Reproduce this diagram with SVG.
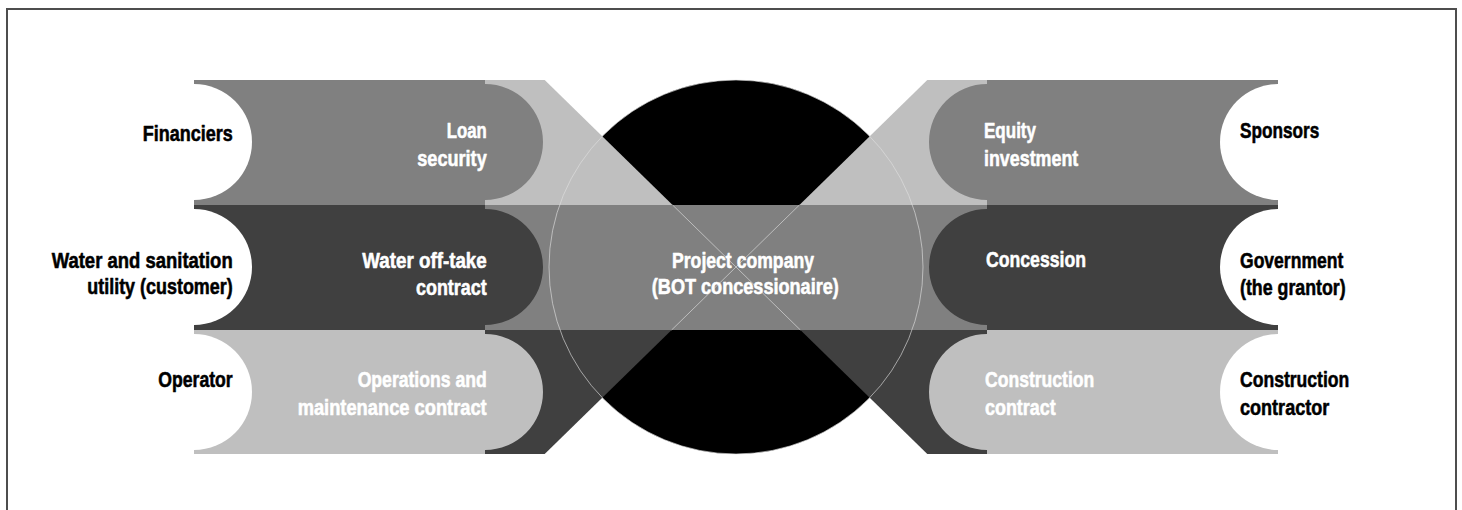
<svg xmlns="http://www.w3.org/2000/svg" width="1462" height="510" viewBox="0 0 1462 510">
<style>
.t{font-family:"Liberation Sans",Arial,sans-serif;font-weight:bold;font-size:21.5px;stroke-width:0.55;stroke-linejoin:round}
.k{fill:#000;stroke:#000}
.w{fill:#fff;stroke:#fff}
.e{text-anchor:end}
.m{text-anchor:middle}
.thin{fill:none;stroke:#e0e0e0;stroke-width:0.8;stroke-opacity:0.8}
</style>
<rect width="1462" height="510" fill="#fff"/>
<path d="M7,510 V9 H1456 V510" fill="none" stroke="#4d4d4d" stroke-width="2"/>

<g id="hub">
  <circle cx="736" cy="267" r="187" fill="#000"/>
  <polygon points="485,80 544.7,80 672.6,205 485,205" fill="#bfbfbf"/>
  <polygon points="927.3,80 987,80 987,205 799.4,205" fill="#bfbfbf"/>
  <polygon points="485,330 671.6,330 544.7,454 485,454" fill="#404040"/>
  <polygon points="800.4,330 987,330 987,454 927.3,454" fill="#404040"/>
  <rect x="485" y="205" width="502" height="125" fill="#808080"/>
  <circle class="thin" cx="736" cy="267" r="187"/>
</g>

<g id="connectors">
  <line class="thin" x1="672.6" y1="205" x2="800.4" y2="330"/>
  <line class="thin" x1="799.4" y1="205" x2="671.6" y2="330"/>
</g>

<g id="project-company">
  <text class="t w m" x="743" y="268" textLength="142" lengthAdjust="spacingAndGlyphs">Project company</text>
  <text class="t w m" x="745.3" y="294" textLength="187" lengthAdjust="spacingAndGlyphs">(BOT concessionaire)</text>
</g>

<g id="loan-security">
  <path d="M194,80 H485 V84 A58,58 0 0 1 485,200 V205 H194 Z" fill="#808080"/>
  <text class="t w e" x="486.7" y="138" textLength="40" lengthAdjust="spacingAndGlyphs">Loan</text>
  <text class="t w e" x="486.7" y="166" textLength="69.4" lengthAdjust="spacingAndGlyphs">security</text>
</g>
<g id="water-offtake">
  <path d="M194,205 H485 V209 A58,58 0 0 1 485,325 V330 H194 Z" fill="#404040"/>
  <text class="t w e" x="486.7" y="268" textLength="124.4" lengthAdjust="spacingAndGlyphs">Water off-take</text>
  <text class="t w e" x="486.7" y="295" textLength="70.7" lengthAdjust="spacingAndGlyphs">contract</text>
</g>
<g id="om-contract">
  <path d="M194,330 H485 V334 A58,58 0 0 1 485,450 V454 H194 Z" fill="#bfbfbf"/>
  <text class="t w e" x="486.7" y="387" textLength="129" lengthAdjust="spacingAndGlyphs">Operations and</text>
  <text class="t w e" x="486.7" y="415" textLength="189" lengthAdjust="spacingAndGlyphs">maintenance contract</text>
</g>

<g id="equity">
  <path d="M1278,80 H987 V84 A58,58 0 0 0 987,200 V205 H1278 Z" fill="#808080"/>
  <text class="t w" x="984" y="138" textLength="52" lengthAdjust="spacingAndGlyphs">Equity</text>
  <text class="t w" x="984" y="166" textLength="94.3" lengthAdjust="spacingAndGlyphs">investment</text>
</g>
<g id="concession">
  <path d="M1278,205 H987 V209 A58,58 0 0 0 987,325 V330 H1278 Z" fill="#404040"/>
  <text class="t w" x="986" y="267" textLength="100" lengthAdjust="spacingAndGlyphs">Concession</text>
</g>
<g id="construction-contract">
  <path d="M1278,330 H987 V334 A58,58 0 0 0 987,450 V454 H1278 Z" fill="#bfbfbf"/>
  <text class="t w" x="985" y="387" textLength="109.3" lengthAdjust="spacingAndGlyphs">Construction</text>
  <text class="t w" x="985" y="415" textLength="70.7" lengthAdjust="spacingAndGlyphs">contract</text>
</g>

<g id="financiers">
  <path d="M194,84 A58,58 0 0 1 194,200 Z" fill="#fff"/>
  <text class="t k e" x="232.7" y="141" textLength="90" lengthAdjust="spacingAndGlyphs">Financiers</text>
</g>
<g id="utility">
  <path d="M194,209 A58,58 0 0 1 194,325 Z" fill="#fff"/>
  <text class="t k e" x="232.7" y="268" textLength="181" lengthAdjust="spacingAndGlyphs">Water and sanitation</text>
  <text class="t k e" x="232.7" y="294" textLength="145.4" lengthAdjust="spacingAndGlyphs">utility (customer)</text>
</g>
<g id="operator">
  <path d="M194,334 A58,58 0 0 1 194,450 Z" fill="#fff"/>
  <text class="t k e" x="232.7" y="387" textLength="74.4" lengthAdjust="spacingAndGlyphs">Operator</text>
</g>

<g id="sponsors">
  <path d="M1278,84 A58,58 0 0 0 1278,200 Z" fill="#fff"/>
  <text class="t k" x="1240" y="137.5" textLength="79.3" lengthAdjust="spacingAndGlyphs">Sponsors</text>
</g>
<g id="government">
  <path d="M1278,209 A58,58 0 0 0 1278,325 Z" fill="#fff"/>
  <text class="t k" x="1240" y="268" textLength="103.3" lengthAdjust="spacingAndGlyphs">Government</text>
  <text class="t k" x="1240" y="295" textLength="105.7" lengthAdjust="spacingAndGlyphs">(the grantor)</text>
</g>
<g id="construction-contractor">
  <path d="M1278,334 A58,58 0 0 0 1278,450 Z" fill="#fff"/>
  <text class="t k" x="1240" y="387" textLength="109.3" lengthAdjust="spacingAndGlyphs">Construction</text>
  <text class="t k" x="1240" y="415" textLength="89.3" lengthAdjust="spacingAndGlyphs">contractor</text>
</g>
</svg>
